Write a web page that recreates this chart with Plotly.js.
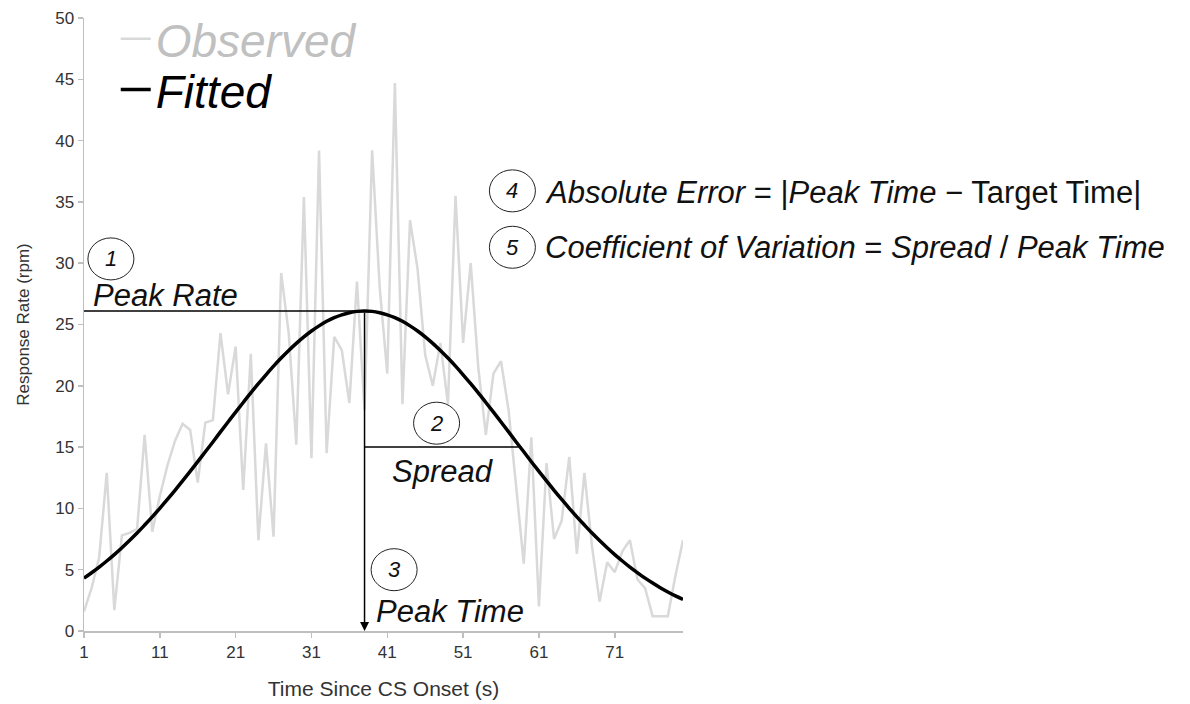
<!DOCTYPE html>
<html>
<head>
<meta charset="utf-8">
<script src="https://cdn.plot.ly/plotly-3.0.1.min.js"></script>
<style>
  html, body { margin: 0; padding: 0; background: #ffffff; }
  #chart { width: 1190px; height: 704px; }
</style>
</head>
<body>
<div id="chart"></div>
<script>
// ---- data ----
const timeSec = [];
for (let i = 1; i <= 80; i++) timeSec.push(i);

const observedRate = [
  1.6, 3.5, 6.0, 12.9, 1.7, 7.8, 8.0, 8.3, 16.0, 8.1,
  11.0, 13.5, 15.5, 16.9, 16.4, 12.1, 17.0, 17.2, 24.3, 19.3,
  23.2, 11.5, 22.6, 7.4, 15.3, 7.7, 29.2, 24.3, 15.2, 35.4,
  14.1, 39.2, 14.5, 24.0, 22.9, 18.6, 28.5, 18.0, 39.2, 28.0,
  21.0, 44.7, 18.5, 33.5, 29.5, 22.5, 20.0, 23.5, 18.5, 35.5,
  23.5, 30.0, 21.5, 16.0, 21.0, 22.0, 18.0, 12.0, 5.5, 15.8,
  2.0, 13.7, 7.5, 9.0, 14.2, 6.3, 12.9, 6.9, 2.4, 5.6,
  4.8, 6.5, 7.4, 4.2, 3.5, 1.2, 1.2, 1.2, 4.5, 7.4
];

const fittedRate = [
  4.31, 4.75, 5.21, 5.71, 6.23, 6.79, 7.38, 7.99, 8.64, 9.31,
  10.01, 10.73, 11.47, 12.24, 13.02, 13.81, 14.62, 15.42, 16.24, 17.05,
  17.85, 18.64, 19.42, 20.17, 20.90, 21.60, 22.26, 22.88, 23.46, 23.99,
  24.47, 24.89, 25.26, 25.56, 25.79, 25.96, 26.07, 26.10, 26.07, 25.96,
  25.79, 25.56, 25.26, 24.89, 24.47, 23.99, 23.46, 22.88, 22.26, 21.60,
  20.90, 20.17, 19.42, 18.64, 17.85, 17.05, 16.24, 15.42, 14.62, 13.81,
  13.02, 12.24, 11.47, 10.73, 10.01, 9.31, 8.64, 7.99, 7.38, 6.79,
  6.23, 5.71, 5.21, 4.75, 4.31, 3.91, 3.53, 3.18, 2.86, 2.57
];

const xTickVals = [1, 11, 21, 31, 41, 51, 61, 71];
const xTickText = ['1', '11', '21', '31', '41', '51', '61', '71'];

const peakTime = 38;
const peakRate = 26.1;
const spreadLevel = 15;
const spreadEnd = 58.3;

// ---- styling ----
const FONT = 'Liberation Sans, Arial, Helvetica, sans-serif';
const AXIS_GRAY = '#bfbfbf';
const OBS_GRAY = '#d9d9d9';
const TICK_COLOR = '#333333';

const traces = [
  {
    x: timeSec, y: observedRate, type: 'scatter', mode: 'lines',
    name: 'Observed', legend: 'legend',
    line: { color: OBS_GRAY, width: 2.5 },
    hoverinfo: 'x+y'
  },
  {
    x: timeSec, y: fittedRate, type: 'scatter', mode: 'lines',
    name: 'Fitted', legend: 'legend2',
    line: { color: '#000000', width: 3.5, shape: 'spline' },
    hoverinfo: 'x+y'
  }
];

function circle(xc, yc) {
  return {
    type: 'circle', xref: 'x', yref: 'y',
    xsizemode: 'pixel', ysizemode: 'pixel',
    xanchor: xc, yanchor: yc,
    x0: -23, x1: 23, y0: -21, y1: 21,
    line: { color: '#222222', width: 1 }
  };
}

function numLabel(xc, yc, t) {
  return {
    x: xc, y: yc, xref: 'x', yref: 'y', showarrow: false,
    text: '<i>' + t + '</i>',
    font: { family: FONT, size: 22, color: '#111111' },
    xanchor: 'center', yanchor: 'middle'
  };
}

function textLabel(xl, yc, t, size) {
  return {
    x: xl, y: yc, xref: 'x', yref: 'y', showarrow: false,
    text: t, font: { family: FONT, size: size, color: '#111111' },
    xanchor: 'left', yanchor: 'middle', align: 'left'
  };
}

const legendBase = {
  x: 0.053, xanchor: 'left', yanchor: 'middle',
  bgcolor: 'rgba(0,0,0,0)', borderwidth: 0, itemwidth: 30
};

const layout = {
  width: 1190, height: 704,
  paper_bgcolor: '#ffffff', plot_bgcolor: '#ffffff',
  margin: { l: 84, r: 507, t: 18, b: 73, autoexpand: false },
  font: { family: FONT, color: '#404040' },
  showlegend: true,
  legend: Object.assign({}, legendBase, {
    y: 0.966,
    font: { family: FONT, size: 46, color: '#c0c0c0', style: 'italic' }
  }),
  legend2: Object.assign({}, legendBase, {
    y: 0.883,
    font: { family: FONT, size: 46, color: '#000000', style: 'italic' }
  }),
  xaxis: {
    range: [1, 80], tickmode: 'array', tickvals: xTickVals, ticktext: xTickText,
    showline: true, linecolor: AXIS_GRAY, linewidth: 1.5,
    ticks: 'outside', ticklen: 5, tickcolor: AXIS_GRAY, tickwidth: 1.5,
    showgrid: false, zeroline: false,
    tickfont: { family: FONT, size: 17, color: TICK_COLOR },
    title: { text: 'Time Since CS Onset (s)', font: { family: FONT, size: 21, color: TICK_COLOR }, standoff: 20 }
  },
  yaxis: {
    range: [0, 50], dtick: 5, tick0: 0,
    showline: true, linecolor: AXIS_GRAY, linewidth: 1.5,
    ticks: 'outside', ticklen: 5, tickcolor: AXIS_GRAY, tickwidth: 1.5,
    showgrid: false, zeroline: false,
    tickfont: { family: FONT, size: 17, color: TICK_COLOR },
    title: { text: 'Response Rate (rpm)', font: { family: FONT, size: 17, color: TICK_COLOR }, standoff: 21 }
  },
  shapes: [
    { type: 'line', xref: 'x', yref: 'y', x0: 1, x1: peakTime, y0: peakRate, y1: peakRate,
      line: { color: '#000000', width: 1.5 } },
    { type: 'line', xref: 'x', yref: 'y', x0: peakTime, x1: spreadEnd, y0: spreadLevel, y1: spreadLevel,
      line: { color: '#000000', width: 1.5 } },
    circle(4.55, 30.35),
    circle(47.5, 16.95),
    circle(41.9, 5.0),
    circle(57.5, 35.9),
    circle(57.5, 31.3)
  ],
  annotations: [
    {
      x: peakTime, y: 0, ax: peakTime, ay: peakRate,
      xref: 'x', yref: 'y', axref: 'x', ayref: 'y',
      showarrow: true, arrowhead: 2, arrowsize: 1.2, arrowwidth: 1.5, arrowcolor: '#000000',
      text: ''
    },
    numLabel(4.55, 30.35, '1'),
    numLabel(47.5, 16.95, '2'),
    numLabel(41.9, 5.0, '3'),
    numLabel(57.5, 35.9, '4'),
    numLabel(57.5, 31.3, '5'),
    textLabel(1.9, 27.35, '<i>Peak Rate</i>', 31),
    textLabel(41.3, 13.0, '<i>Spread</i>', 31),
    textLabel(39.3, 1.6, '<i>Peak Time</i>', 31),
    textLabel(61.6, 35.8, '<i>Absolute Error</i> = |<i>Peak Time</i> \u2212 Target Time|', 31),
    textLabel(61.6, 31.25, '<i>Coefficient of Variation</i> = <i>Spread</i> / <i>Peak Time</i>', 31)
  ]
};

Plotly.newPlot('chart', traces, layout, { displayModeBar: false, staticPlot: true });
</script>
</body>
</html>
